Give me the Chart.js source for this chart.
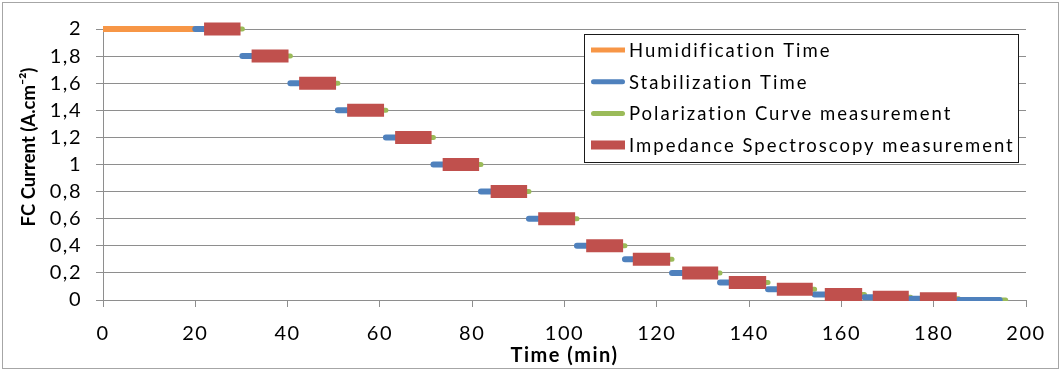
<!DOCTYPE html>
<html>
<head>
<meta charset="utf-8">
<script src="https://cdn.jsdelivr.net/npm/chart.js@4.4.0/dist/chart.umd.min.js"></script>
<style>
  html, body { margin: 0; padding: 0; background: #fff; }
  #wrap { position: relative; width: 1062px; height: 372px; }
  #frame { position: absolute; left: 2px; top: 2px; width: 1055px; height: 365px; border: 1px solid #a6a6a6; pointer-events: none; }
</style>
</head>
<body>
<div id="wrap">
  <canvas id="chart" width="1062" height="372"></canvas>
  <div id="frame"></div>
</div>
<script>
// Paliers de courant (A.cm-2) et temps (min)
const levels    = [2, 1.8, 1.6, 1.4, 1.2, 1, 0.8, 0.6, 0.4, 0.3, 0.2, 0.13, 0.08, 0.04, 0.02, 0.01, 0];
const stabStart = [20, 30.2, 40.6, 50.9, 61.3, 71.6, 81.9, 92.3, 102.7, 113.1, 123.3, 133.7, 144.1, 154.2, 165.0, 175.0, 185.4];
const stabEnd   = [21.9, 32.2, 42.5, 52.9, 63.3, 73.6, 84.0, 94.3, 104.7, 114.8, 125.5, 135.6, 146.0, 156.4, 166.8, 177.0, 194.3];
const impStart  = [21.9, 32.2, 42.5, 52.9, 63.3, 73.6, 84.0, 94.3, 104.7, 114.8, 125.5, 135.6, 146.0, 156.4, 166.8, 177.0, null];
const impEnd    = [29.8, 40.2, 50.5, 60.9, 71.2, 81.5, 91.9, 102.3, 112.7, 122.9, 133.3, 143.7, 153.8, 164.5, 174.6, 185.0, null];
const polStart  = [29.8, 40.2, 50.5, 60.9, 71.2, 81.5, 91.9, 102.3, 112.7, 122.9, 133.3, 143.7, 153.8, 164.5, 174.6, 185.0, 194.3];
const polEnd    = [30.2, 40.6, 50.9, 61.3, 71.6, 81.9, 92.3, 102.7, 113.1, 123.3, 133.7, 144.1, 154.2, 165.0, 175.0, 185.4, 195.6];
const humStart  = [0];
const humEnd    = [20];

const xTickLabels = ["0", "20", "40", "60", "80", "100", "120", "140", "160", "180", "200"];
const yTickLabels = ["0", "0,2", "0,4", "0,6", "0,8", "1", "1,2", "1,4", "1,6", "1,8", "2"];

// Couleurs (palette Excel)
const ORANGE = "#F79646";
const BLUE = "#4F81BD";
const GREEN = "#9BBB59";
const RED = "#C0504D";
const GRID = "#8E8E8E";
const FONT = "Lato, 'Open Sans', sans-serif";
const SPACING = "1.5px"; // le texte de la figure est étiré horizontalement

// Segments horizontaux séparés par des trous (y = null)
function segments(starts, ends) {
  const pts = [];
  starts.forEach((s, i) => {
    if (s === null) return;
    pts.push({ x: s, y: levels[i] }, { x: ends[i], y: levels[i] }, { x: ends[i], y: null });
  });
  return pts;
}

const clipArea = { left: 0, top: 12, right: 12, bottom: 1 };

const datasets = [
  {
    label: "Humidification Time",
    data: segments(humStart, humEnd),
    borderColor: ORANGE, borderWidth: 6, borderCapStyle: "butt",
    legendWidth: 5, legendCap: "butt", order: 3
  },
  {
    label: "Stabilization Time",
    data: segments(stabStart, stabEnd),
    borderColor: BLUE, borderWidth: 6, borderCapStyle: "round",
    legendWidth: 5, legendCap: "round", order: 1
  },
  {
    label: "Polarization Curve measurement",
    data: segments(polStart, polEnd),
    borderColor: GREEN, borderWidth: 5, borderCapStyle: "round",
    legendWidth: 5, legendCap: "round", order: 2
  },
  {
    label: "Impedance Spectroscopy measurement",
    data: segments(impStart, impEnd),
    borderColor: RED, borderWidth: 13, borderCapStyle: "butt",
    legendWidth: 9, legendCap: "butt", order: 0
  }
];
datasets.forEach((d) => {
  d.pointRadius = 0;
  d.spanGaps = false;
  d.fill = false;
  d.tension = 0;
  d.clip = clipArea;
});

// Espacement des lettres pour tout le texte dessiné par Chart.js
const spacing = {
  id: "spacing",
  beforeUpdate(chart) { chart.ctx.letterSpacing = SPACING; },
  beforeDraw(chart) { chart.ctx.letterSpacing = SPACING; }
};

// Légende encadrée dans la zone du graphe
const legendBox = {
  id: "legendBox",
  afterDatasetsDraw(chart) {
    const ctx = chart.ctx;
    const box = { x: 584.5, y: 34.5, w: 434, h: 128 };
    ctx.save();
    ctx.fillStyle = "#fff";
    ctx.fillRect(box.x, box.y, box.w, box.h);
    ctx.strokeStyle = "#1a1a1a";
    ctx.lineWidth = 1;
    ctx.strokeRect(box.x, box.y, box.w, box.h);
    ctx.font = "18.5px " + FONT;
    ctx.letterSpacing = "2px";
    ctx.textBaseline = "middle";
    ctx.textAlign = "left";
    chart.data.datasets.forEach((d, i) => {
      const y = 50 + i * 31.7;
      ctx.beginPath();
      ctx.strokeStyle = d.borderColor;
      ctx.lineWidth = d.legendWidth;
      ctx.lineCap = d.legendCap;
      const pad = d.legendCap === "round" ? 2.5 : 0;
      ctx.moveTo(591 + pad, y);
      ctx.lineTo(625 - pad, y);
      ctx.stroke();
      ctx.fillStyle = "#000";
      ctx.fillText(d.label, 629, y + 1);
    });
    ctx.restore();
  }
};

// Titre de l'axe Y placé comme sur la figure
const yTitle = {
  id: "yTitle",
  afterDraw(chart) {
    const ctx = chart.ctx;
    ctx.save();
    ctx.letterSpacing = "0px";
    ctx.translate(29, 147);
    ctx.rotate(-Math.PI / 2);
    ctx.font = "bold 18.5px " + FONT;
    ctx.fillStyle = "#000";
    ctx.textAlign = "center";
    ctx.textBaseline = "middle";
    ctx.fillText("FC Current (A.cm⁻²)", 0, 0);
    ctx.restore();
  }
};

new Chart(document.getElementById("chart"), {
  type: "line",
  data: { datasets },
  plugins: [spacing, legendBox, yTitle],
  options: {
    responsive: false,
    devicePixelRatio: 1,
    animation: false,
    layout: { padding: { left: 0, top: 29, right: 36, bottom: 0 } },
    scales: {
      x: {
        type: "linear",
        min: 0,
        max: 200,
        afterFit: (s) => { s.height = 72; },
        ticks: {
          stepSize: 20,
          padding: 15,
          color: "#000",
          font: { size: 20, family: FONT },
          callback: (v, i) => xTickLabels[i]
        },
        grid: { drawOnChartArea: false, drawTicks: true, tickLength: 7, color: GRID },
        border: { color: GRID },
        title: {
          display: true,
          text: "Time (min)",
          color: "#000",
          font: { size: 20, weight: "bold", family: FONT },
          padding: { top: 0, bottom: 4 }
        }
      },
      y: {
        min: 0,
        max: 2,
        afterFit: (s) => { s.width = 103; },
        ticks: {
          stepSize: 0.2,
          padding: 14,
          color: "#000",
          font: { size: 20, family: FONT },
          callback: (v, i) => yTickLabels[i]
        },
        grid: { color: GRID, tickLength: 7 },
        border: { color: GRID }
      }
    },
    plugins: {
      legend: { display: false },
      tooltip: { enabled: false }
    }
  }
});
</script>
</body>
</html>
